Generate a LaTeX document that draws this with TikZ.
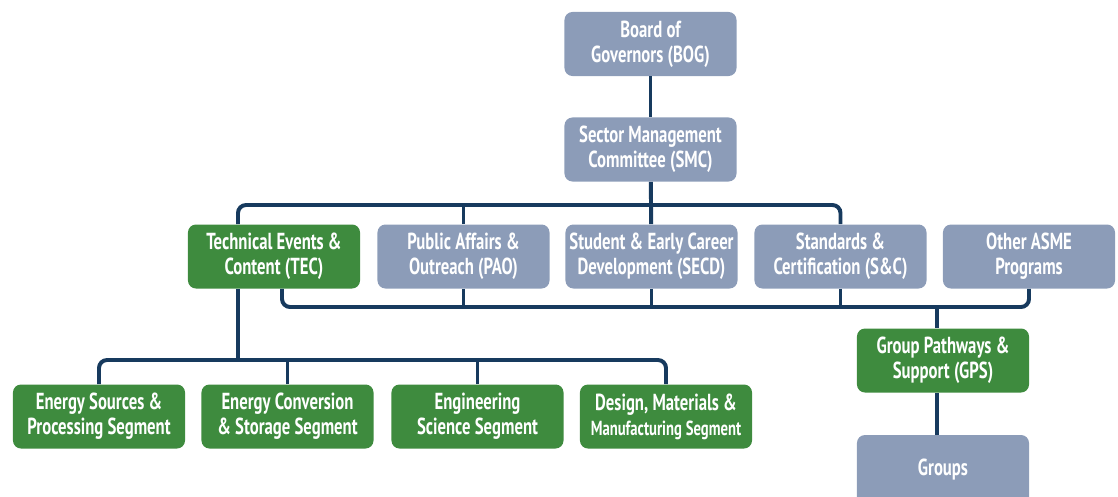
\documentclass[tikz,border=0pt]{standalone}
\usepackage{fontspec}
\setmainfont{PT Sans}[FakeStretch=0.72]
\definecolor{asmegrey}{HTML}{8C9CB8}
\definecolor{asmegreen}{HTML}{3E8B3E}
\definecolor{asmenavy}{HTML}{173A5E}
\tikzset{
    unitbox/.style = {rounded corners=0.2cm, minimum width=4.3cm, minimum height=1.6cm,
        inner sep=0pt, align=center, text=white,
        font=\bfseries\fontsize{16.5}{17.7}\selectfont},
    greybox/.style = {unitbox, fill=asmegrey},
    greenbox/.style = {unitbox, fill=asmegreen},
    link/.style = {draw=asmenavy, line width=2.8pt, rounded corners=0.2cm}
}

\begin{document}
\begin{tikzpicture}[x=0.025cm, y=-0.025cm]
    \useasboundingbox (0,0) rectangle (1118,496);
    \clip (0,0) rectangle (1118,496);
    % sector level
    \node[greybox] (bog) at (650.5,44) {Board of\\Governors (BOG)};
    \node[greybox] (smc) at (650.5,149.5) {Sector Management\\Committee (SMC)};
    % committees
    \node[greenbox] (tec) at (274,256.5) {Technical Events \&\\Content (TEC)};
    \node[greybox] (pao) at (463.5,256.5) {Public Affairs \&\\Outreach (PAO)};
    \node[greybox] (secd) at (651.5,256.5) {Student \& Early Career\\Development (SECD)};
    \node[greybox] (sc) at (840.5,256.5) {Standards \&\\Certification (S\&C)};
    \node[greybox] (other) at (1029,256.5) {Other ASME\\Programs};
    \node[greenbox] (gps) at (943,360.5) {Group Pathways \&\\Support (GPS)};
    \node[greybox, minimum height=1.75cm] (groups) at (943,470) {Groups};
    % segments
    \node[greenbox] (es) at (99,416.5) {Energy Sources \&\\Processing Segment};
    \node[greenbox] (ec) at (287.5,416.5) {Energy Conversion\\\& Storage Segment};
    \node[greenbox] (ess) at (477.5,416.5) {Engineering\\Science Segment};
    \node[greenbox] (dmm) at (666,416.5) {Design, Materials \&\\{\fontsize{14.5}{15}\selectfont Manufacturing Segment}};
    \coordinate (topbus) at (650,205);
    \coordinate (midbus) at (650,307);
    \coordinate (lowbus) at (400,360);
    \draw[link] (bog) -- (smc);
    \draw[link] (smc) -- (secd);
    \draw[link] ([xshift=-0.9cm]tec.north) |- (topbus) -| (sc.north);
    \draw[link] (pao.north) -- (pao.north |- topbus);
    \draw[link] ([xshift=0.2cm]tec.south) |- (midbus) -| (other.south);
    \draw[link] (pao.south) -- (pao.south |- midbus);
    \draw[link] (secd.south) -- (secd.south |- midbus);
    \draw[link] (sc.south) -- (sc.south |- midbus);
    \draw[link] ([xshift=-0.15cm]gps.north |- midbus) -- ([xshift=-0.15cm]gps.north);
    \draw[link] ([xshift=-0.15cm]gps.south) -- ([xshift=-0.15cm]groups.north);
    \draw[link] ([xshift=-0.9cm]tec.south) -- ([xshift=-0.9cm]tec.south |- lowbus);
    \draw[link] (es.north) |- (lowbus) -| (dmm.north);
    \draw[link] (ec.north) -- (ec.north |- lowbus);
    \draw[link] (ess.north) -- (ess.north |- lowbus);
\end{tikzpicture}
\end{document}
